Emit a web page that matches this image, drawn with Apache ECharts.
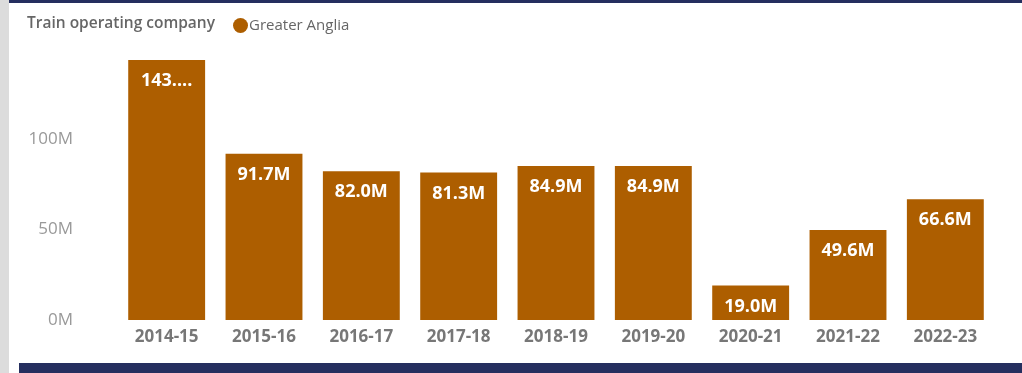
<!DOCTYPE html>
<html>
<head>
<meta charset="utf-8">
<script src="https://cdn.jsdelivr.net/npm/echarts@6/dist/echarts.min.js"></script>
<style>
html,body{margin:0;padding:0;background:#fff;}
#c{width:1022px;height:373px;}
</style>
</head>
<body>
<div id="c"></div>
<script>
const categories = ['2014-15','2015-16','2016-17','2017-18','2018-19','2019-20','2020-21','2021-22','2022-23'];
const values = [143.4, 91.7, 82.0, 81.3, 84.9, 84.9, 19.0, 49.6, 66.6];
const seriesName = 'Greater Anglia';
const legendTitle = 'Train operating company';
const yTicks = [0, 50, 100];

const chart = echarts.init(document.getElementById('c'));
const FONT = '"Open Sans", "Noto Sans", sans-serif';
chart.setOption({
  animation: false,
  textStyle: {fontFamily: FONT},
  graphic: [
    {type:'rect', shape:{x:0,y:0,width:9,height:373}, style:{fill:'#dcdcdc'}},
    {type:'rect', shape:{x:9,y:0,width:1013,height:3}, style:{fill:'#252f5f'}},
    {type:'rect', shape:{x:19,y:363,width:1003,height:10}, style:{fill:'#252f5f'}},
    {type:'text', left:27, top:16, style:{text:legendTitle, font:'600 15.5px ' + FONT, fill:'#666666'}}
  ],
  legend: {
    left: 233, top: 18, padding: 0,
    icon: 'circle', itemWidth: 15, itemHeight: 15, itemGap: 2,
    textStyle: {fontSize: 15, color: '#666666', fontFamily: FONT, padding:[0,0,0,-4]},
    data: [seriesName]
  },
  grid: {left: 118, right: 28, top: 48, bottom: 53},
  xAxis: {
    type: 'category', data: categories,
    axisLine: {show:false}, axisTick: {show:false},
    axisLabel: {color:'#777777', fontWeight:'bold', fontSize:17, margin:9, fontFamily: FONT}
  },
  yAxis: {
    type: 'value', min: 0, max: 150, interval: 50,
    splitLine: {show:false}, axisLine:{show:false}, axisTick:{show:false},
    axisLabel: {
      color:'#999999', fontSize:17, margin:45, fontFamily: FONT,
      showMaxLabel: false,
      formatter: v => yTicks.includes(v) ? v + 'M' : ''
    }
  },
  series: [{
    name: seriesName, type: 'bar', data: values,
    barCategoryGap: '21%',
    itemStyle: {color: '#ad5e00'},
    label: {
      show: true, position: 'insideTop', distance: 12,
      color: '#ffffff', fontWeight: 'bold', fontSize: 18, fontFamily: FONT,
      formatter: p => { const s = p.value.toFixed(1) + 'M'; return s.length > 5 ? s.slice(0,3) + '....' : s; }
    }
  }]
});
</script>
</body>
</html>
